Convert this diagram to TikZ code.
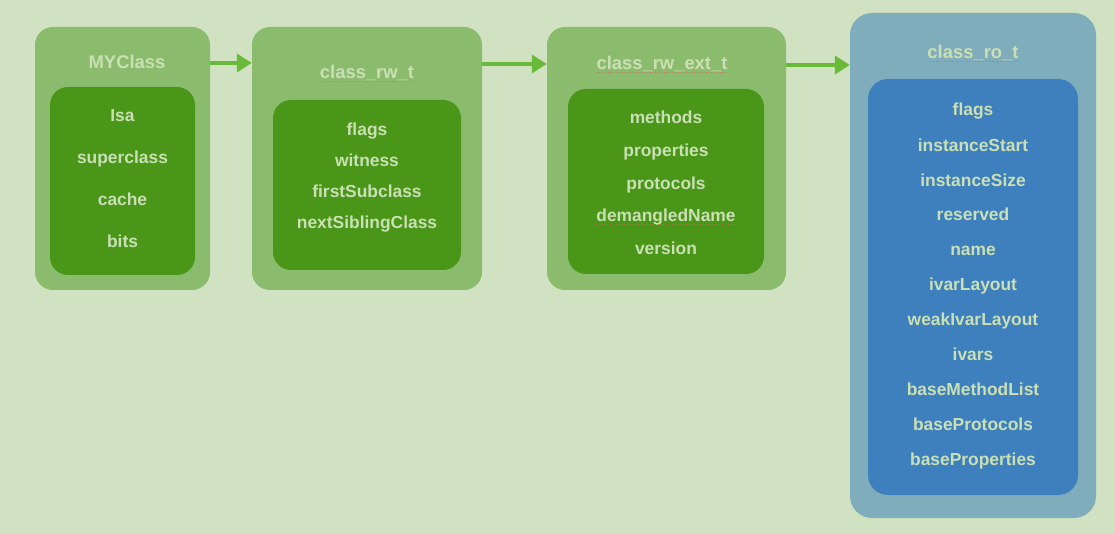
\documentclass[tikz,border=0pt]{standalone}
\usepackage{fontspec}
\setmainfont{Liberation Sans}
\usetikzlibrary{arrows.meta}
\definecolor{bg}{RGB}{208,226,193}
\definecolor{gout}{RGB}{139,188,110}
\definecolor{gin}{RGB}{74,150,25}
\definecolor{bout}{RGB}{127,173,188}
\definecolor{bin}{RGB}{62,128,190}
\definecolor{txt}{RGB}{202,224,180}
\definecolor{arrc}{RGB}{106,186,58}
\definecolor{squig}{RGB}{190,110,90}
\tikzset{
  box/.style={fill=#1, rounded corners=18pt, inner sep=0pt, draw=none},
  lbl/.style={text=txt, font=\fontsize{17.4}{20}\selectfont\bfseries, inner sep=0pt, text height=0.72em, text depth=0.2em, yshift=-4pt},
  ttl/.style={text=txt, font=\fontsize{18.4}{20}\selectfont\bfseries, inner sep=0pt, text height=0.72em, text depth=0.2em, yshift=-4pt},
  arr/.style={draw=arrc, line width=4pt, -{Triangle[length=15pt,width=18pt]}},
  spell/.style={draw=squig, line width=0.8pt, dotted, opacity=0.8}
}
\begin{document}
\begin{tikzpicture}[x=1pt,y=-1pt]
\useasboundingbox[fill=bg] (0,0) rectangle (1115,534);
% MYClass
\node[box=gout, minimum width=175pt, minimum height=263pt] (my) at (122.5,158.5) {};
\node[box=gin, minimum width=145pt, minimum height=188pt] (myin) at (122.5,181) {};
\node[ttl] (myT) at (127,62) {MYClass};
\node[lbl] (my1) at (122.5,115) {Isa};
\node[lbl] (my2) at (122.5,157) {superclass};
\node[lbl] (my3) at (122.5,199) {cache};
\node[lbl] (my4) at (122.5,241) {bits};
% class_rw_t
\node[box=gout, minimum width=230pt, minimum height=263pt] (rw) at (367,158.5) {};
\node[box=gin, minimum width=188pt, minimum height=170pt] (rwin) at (367,185) {};
\node[ttl] (rwT) at (367,72) {class\_rw\_t};
\node[lbl] (rw1) at (367,129) {flags};
\node[lbl] (rw2) at (367,160) {witness};
\node[lbl] (rw3) at (367,191) {firstSubclass};
\node[lbl] (rw4) at (367,222) {nextSiblingClass};
% class_rw_ext_t
\node[box=gout, minimum width=239pt, minimum height=263pt] (ext) at (666.5,158.5) {};
\node[box=gin, minimum width=196pt, minimum height=185pt] (extin) at (666,181.5) {};
\node[ttl] (extT) at (662,63) {class\_rw\_ext\_t};
\node[lbl] (ext1) at (666,117) {methods};
\node[lbl] (ext2) at (666,150) {properties};
\node[lbl] (ext3) at (666,183) {protocols};
\node[lbl] (ext4) at (666,215) {demangledName};
\node[lbl] (ext5) at (666,248) {version};
% class_ro_t
\node[box=bout, rounded corners=22pt, minimum width=246pt, minimum height=505pt] (ro) at (973,265.5) {};
\node[box=bin, rounded corners=20pt, minimum width=210pt, minimum height=416pt] (roin) at (973,287) {};
\node[ttl] (roT) at (973,52) {class\_ro\_t};
\node[lbl] (ro1) at (973,109) {flags};
\node[lbl] (ro2) at (973,145) {instanceStart};
\node[lbl] (ro3) at (973,180) {instanceSize};
\node[lbl] (ro4) at (973,214) {reserved};
\node[lbl] (ro5) at (973,249) {name};
\node[lbl] (ro6) at (973,284) {ivarLayout};
\node[lbl] (ro7) at (973,319) {weakIvarLayout};
\node[lbl] (ro8) at (973,354) {ivars};
\node[lbl] (ro9) at (973,389) {baseMethodList};
\node[lbl] (ro10) at (973,424) {baseProtocols};
\node[lbl] (ro11) at (973,459) {baseProperties};
% spell-check underlines
\draw[spell] ([yshift=-2.5pt]rwT.base west) -- ([yshift=-2.5pt]rwT.base east);
\draw[spell] ([yshift=-2.5pt]extT.base west) -- ([yshift=-2.5pt]extT.base east);
\draw[spell] ([yshift=-2.5pt]roT.base west) -- ([yshift=-2.5pt]roT.base east);
\draw[spell] ([yshift=-2.5pt]ext4.base west) -- ([yshift=-2.5pt]ext4.base east);
% arrows
\coordinate (a1) at (0,63);
\coordinate (a2) at (0,64);
\coordinate (a3) at (0,65);
\draw[arr] (my.east |- a1) -- (rw.west |- a1);
\draw[arr] (rw.east |- a2) -- (ext.west |- a2);
\draw[arr] (ext.east |- a3) -- (ro.west |- a3);
\end{tikzpicture}
\end{document}
